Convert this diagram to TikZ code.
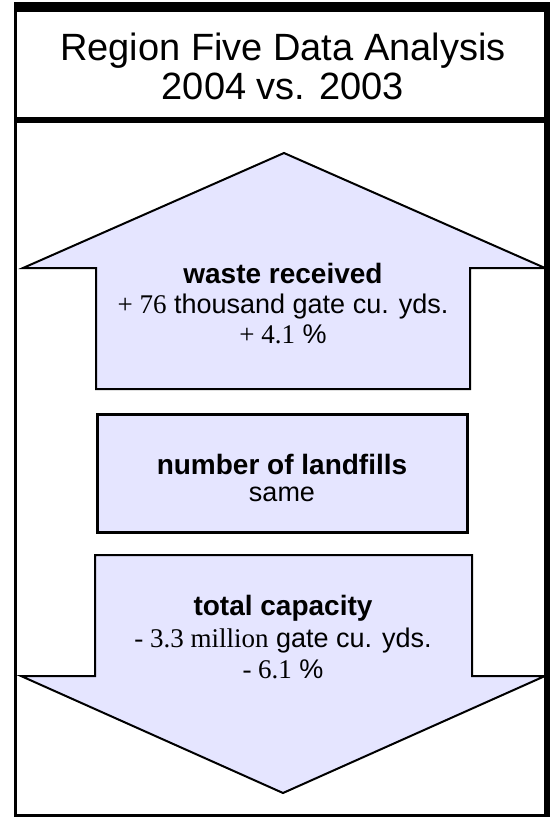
\documentclass[tikz,border=0pt]{standalone}
\usepackage{fontspec}
\setmainfont{Liberation Sans}
\newfontfamily\tnr{Liberation Serif}
\definecolor{lav}{RGB}{229,229,255}
\begin{document}
\begin{tikzpicture}[x=1pt,y=-1pt,
  shapeoutline/.style={draw=black, fill=lav, line width=2pt, line join=miter},
  bodytext/.style={font=\fontsize{27}{30}\selectfont, anchor=base, inner sep=0pt},
  boldtext/.style={font=\fontsize{28}{30}\selectfont\bfseries, anchor=base, inner sep=0pt},
  titletext/.style={font=\fontsize{38}{42}\selectfont, anchor=base, inner sep=0pt}]
\useasboundingbox (0,0) rectangle (550,817);
% frame
\fill[black] (14,2) rectangle (550,12);
\fill[black] (14,2) rectangle (17,817);
\fill[black] (544,2) rectangle (550,817);
\fill[black] (14,117) rectangle (550,123);
\fill[black] (14,814) rectangle (550,817);
% title
\node[titletext] (t1) at (283,60) {Region Five Data Analysis};
\node[titletext] (t2) at (283,99) {2004 vs. 2003};
% up arrow
\draw[shapeoutline] (284,153) -- (545,268) -- (470,268) -- (470,389) -- (96,389) -- (96,268) -- (23,268) -- cycle;
\node[boldtext] (w1) at (283,283) {waste received};
\node[bodytext] (w2) at (283,313) {{\tnr + 76} thousand gate cu. yds.};
\node[bodytext] (w3) at (283,343) {{\tnr + 4.1} \%};
% middle box
\draw[shapeoutline, line width=3pt] (97,414) rectangle (467,532);
\node[boldtext] (n1) at (282,474) {number of landfills};
\node[bodytext] (n2) at (282,501) {same};
% down arrow
\draw[shapeoutline] (95,555) -- (472,555) -- (472,676) -- (545,676) -- (283,793) -- (21,676) -- (95,676) -- cycle;
\node[boldtext] (c1) at (283,615) {total capacity};
\node[bodytext] (c2) at (283,647) {{\tnr - 3.3 million} gate cu. yds.};
\node[bodytext] (c3) at (283,678) {{\tnr - 6.1} \%};
\end{tikzpicture}
\end{document}
